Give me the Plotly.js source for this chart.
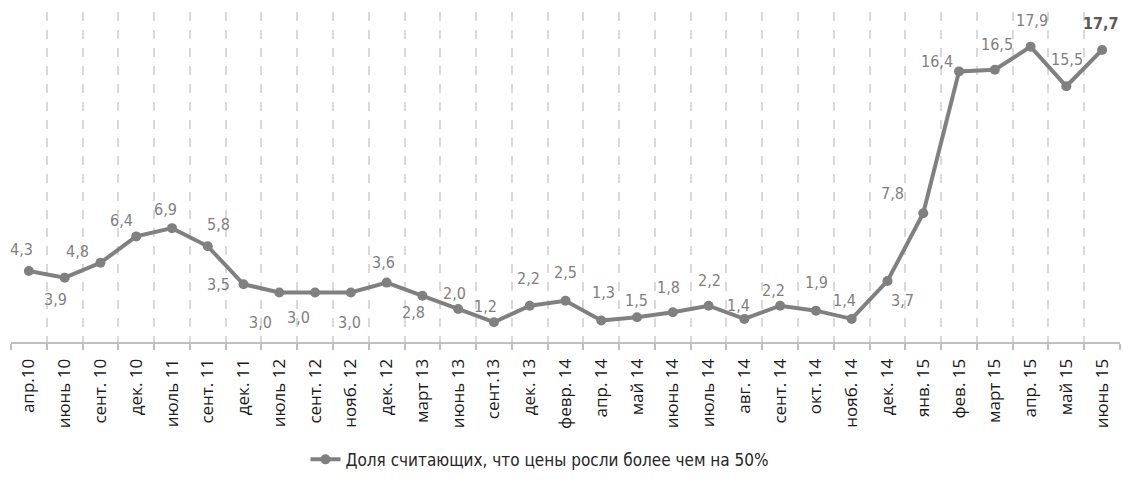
<!DOCTYPE html>
<html>
<head>
<meta charset="utf-8">
<script src="https://cdn.plot.ly/plotly-3.0.1.min.js"></script>
<style>html,body{margin:0;padding:0;background:#fff;}#chart{width:1123px;height:495px;}</style>
</head>
<body>
<div id="chart"></div>
<script>
var categories = ["апр.10","июнь 10","сент. 10","дек. 10","июль 11","сент. 11","дек. 11","июль 12","сент. 12","нояб. 12","дек. 12","март 13","июнь 13","сент.13","дек. 13","февр. 14","апр. 14","май 14","июнь 14","июль 14","авг. 14","сент. 14","окт. 14","нояб. 14","дек. 14","янв. 15","фев. 15","март 15","апр. 15","май 15","июнь 15"];
var values = [4.3,3.9,4.8,6.4,6.9,5.8,3.5,3.0,3.0,3.0,3.6,2.8,2.0,1.2,2.2,2.5,1.3,1.5,1.8,2.2,1.4,2.2,1.9,1.4,3.7,7.8,16.4,16.5,17.9,15.5,17.7];
var seriesName = "Доля считающих, что цены росли более чем на 50%";

// label offsets in pixels (style only): [dx, dy up]
var labelOffsetX = [-7,-9,-23,-15,-6,11,-25,-19,-17,-1,-3,-9,-4,-8,-1,0,2,-1,-4,1,-6,-7,1,-7,15,-31,-22,2,1,1,-1];
var labelOffsetY = [22,-22,11,16,19,22,0,-30,-25,-30,20,-17,16,16,27,28,28,17,25,25,13,15,28,18,-20,20,10,25,26,27,26];

var labelFont = {family: 'Liberation Sans Narrow, DejaVu Sans Condensed, sans-serif', size: 16, color: '#7f7f7f'};

var annotations = values.map(function(v, i){
  var s = v.toFixed(1).replace('.', ',');
  var last = i === values.length - 1;
  return {
    x: categories[i], y: v, xref: 'x', yref: 'y',
    text: last ? '<b>' + s + '</b>' : s,
    showarrow: false,
    xanchor: 'center', yanchor: 'middle',
    xshift: labelOffsetX[i], yshift: labelOffsetY[i],
    font: last ? {family: labelFont.family, size: 16, color: '#595959'} : labelFont
  };
});

var trace = {
  x: categories,
  y: values,
  type: 'scatter',
  mode: 'lines+markers',
  name: seriesName,
  line: {color: '#808080', width: 4},
  marker: {color: '#808080', size: 10},
  cliponaxis: false,
  hoverinfo: 'skip'
};

var layout = {
  width: 1123,
  height: 495,
  margin: {l: 11, r: 3, t: 12, b: 153},
  paper_bgcolor: '#ffffff',
  plot_bgcolor: '#ffffff',
  showlegend: true,
  annotations: annotations,
  legend: {
    orientation: 'h', x: 0.477, xanchor: 'center', y: -0.357, yanchor: 'middle',
    font: {family: 'Liberation Sans Narrow, DejaVu Sans Condensed, sans-serif', size: 17, color: '#262626'}
  },
  xaxis: {
    type: 'category',
    range: [-0.5, 30.5],
    tickson: 'boundaries',
    showgrid: true,
    gridcolor: '#d9d9d9',
    gridwidth: 2,
    griddash: 'dash',
    showline: true,
    linecolor: '#bfbfbf',
    linewidth: 2,
    ticks: 'outside',
    ticklen: 6,
    tickwidth: 2,
    tickcolor: '#bfbfbf',
    tickangle: -90,
    ticklabelstandoff: 8,
    tickfont: {family: 'Open Sans, Noto Sans, sans-serif', size: 17, color: '#1a1a1a'},
    fixedrange: true
  },
  yaxis: {
    range: [0, 20],
    showgrid: false,
    zeroline: false,
    showticklabels: false,
    showline: false,
    ticks: '',
    fixedrange: true
  }
};

Plotly.newPlot('chart', [trace], layout, {displayModeBar: false, staticPlot: true});
</script>
</body>
</html>
